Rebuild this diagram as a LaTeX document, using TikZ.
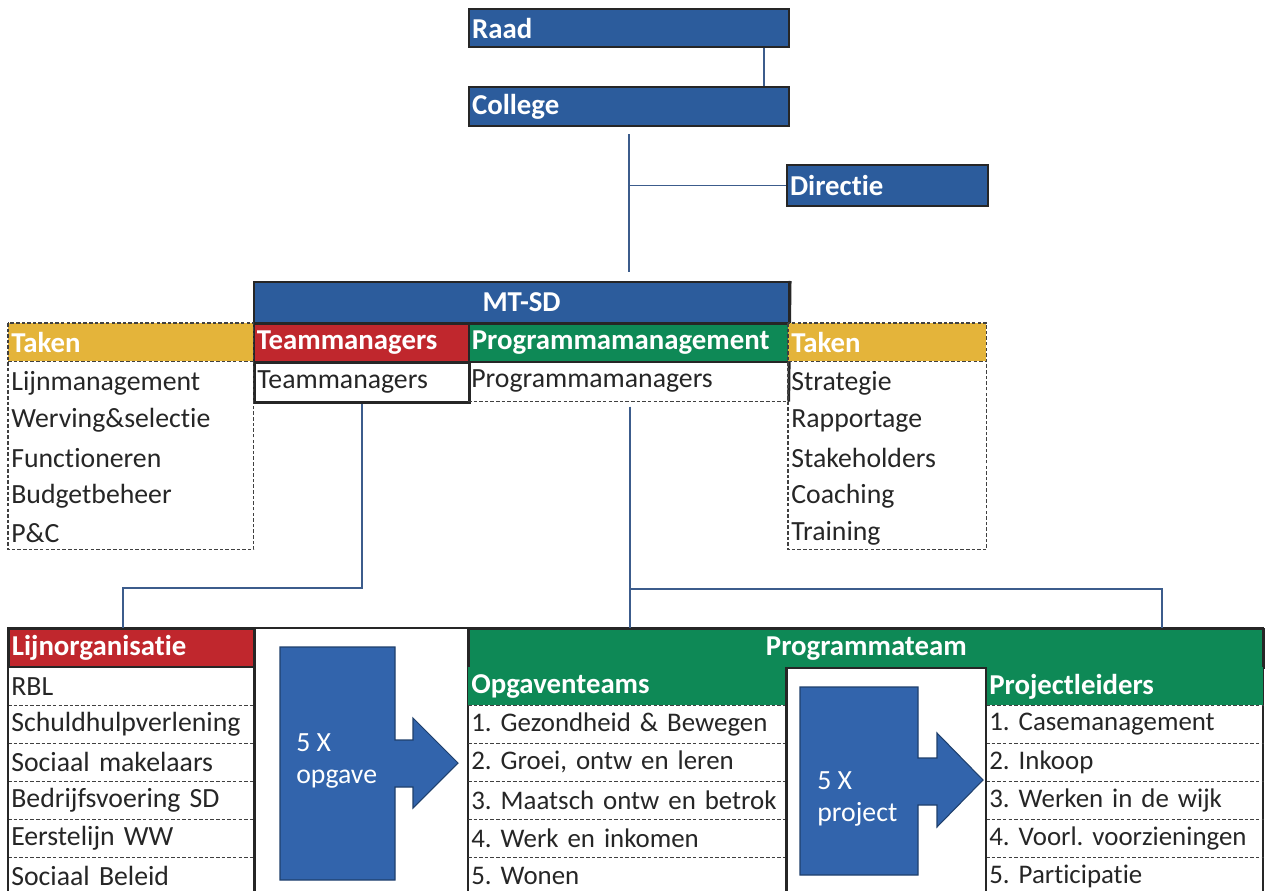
\documentclass[tikz,border=0pt]{standalone}
\usepackage{fontspec}
\setmainfont{Carlito}[Ligatures={NoCommon}]
\usetikzlibrary{calc}

\definecolor{raadblue}{RGB}{44,92,156}
\definecolor{arrowblue}{RGB}{50,100,172}
\definecolor{mtred}{RGB}{192,39,45}
\definecolor{mtgreen}{RGB}{14,137,86}
\definecolor{takengold}{RGB}{228,180,58}
\definecolor{linkblue}{RGB}{60,92,140}
\newcommand\pxu{0.02cm}

\tikzset{
  cell/.style={anchor=north west, inner xsep=3*\pxu, inner ysep=0pt, align=left, text=black!85, font=\fontsize{15.8}{18}\selectfont\frenchspacing, execute at begin node={\hyphenpenalty=10000\relax}},
  narrow/.style={cell, font=\fontsize{15.3}{18}\selectfont\frenchspacing},
  head/.style={cell, text=white, font=\fontsize{16.4}{18}\selectfont\bfseries},
  sz/.style 2 args={text width=#1*\pxu-6*\pxu, minimum height=#2*\pxu},
  bluebar/.style={fill=raadblue, draw=black!85, line width=1.2pt},
  edge/.style={draw=black!85, line width=1.6pt},
  dashline/.style={draw=black!75, line width=0.7pt, dash pattern=on 2pt off 1.2pt},
  conn/.style={draw=linkblue, line width=1pt},
  arrowshape/.style={fill=arrowblue, draw=raadblue!70!black, line width=0.6pt},
  arrowtext/.style={anchor=west, align=left, text=white, inner sep=0pt, font=\fontsize{15.8}{18}\selectfont},
}

\begin{document}
\begin{tikzpicture}[x=0.02cm, y=-0.02cm]
\fill[white] (0,0) rectangle (1270,891);
\useasboundingbox (0,0) rectangle (1270,891);

% bestuur
\node[head, sz={320}{38}, bluebar] (raad) at (468,8) {Raad};
\node[head, sz={320}{39}, bluebar] (college) at (468,86) {College};
\node[head, sz={201}{41}, bluebar] (directie) at (786,164) {Directie};

% MT-SD
\node[head, sz={535}{41}, bluebar, align=center] (mtsd) at (253,281) {MT-SD};
\node[head, sz={215}{38}, fill=mtred, draw=black!85, line width=1pt] (tmhead) at (253,323) {Teammanagers};
\node[cell, sz={215}{40}, draw=black!85, line width=1.6pt] (tmbody) at (253,361) {Teammanagers};
\node[head, sz={320}{38}, fill=mtgreen, draw=black!85, line width=1pt] (pmhead) at (468,323) {Programmamanagement};
\node[cell, sz={320}{40}] (pmbody) at (468,361) {Programmamanagers};
\draw[dashline] (pmbody.south west) -- (pmbody.south east);
\draw[edge] (mtsd.north east) -- (pmbody.south east);

% taken
\node[head, sz={245}{38}, fill=takengold] (takenl) at (8,323) {Taken};
\foreach \t [count=\i] in {Lijnmanagement, Werving\&selectie, Functioneren, Budgetbeheer, P\&C}
  \node[cell, sz={245}{38}] (takenl\i) at (8,{326+\i*37.6}) {\t};
\draw[dashline] (takenl.north west) rectangle ($(takenl5.south east)+(0,-3)$);
\draw[dashline] (takenl.south west) -- (takenl.south east);

\node[head, sz={198}{38}, fill=takengold] (takenr) at (788,323) {Taken};
\foreach \t [count=\i] in {Strategie, Rapportage, Stakeholders, Coaching, Training}
  \node[cell, sz={198}{38}] (takenr\i) at (788,{326+\i*37.6}) {\t};
\draw[dashline] (takenr.north west) rectangle ($(takenr5.south east)+(0,-3)$);
\draw[dashline] (takenr.south west) -- (takenr.south east);

% lijnorganisatie
\node[head, sz={245}{38}, fill=mtred, draw=black!85, line width=1pt] (lijnhead) at (8,628) {Lijnorganisatie};
\foreach \t [count=\i] in {RBL, Schuldhulpverlening, Sociaal makelaars, Bedrijfsvoering SD, Eerstelijn WW, Sociaal Beleid}
  \node[cell, sz={245}{38}] (lijn\i) at (8,{629+\i*38}) {\t};
\foreach \i in {1,...,5}
  \draw[dashline] (lijn\i.south west) -- (lijn\i.south east);
\draw[edge] (lijnhead.north west) rectangle (468,895);
\draw[edge] (lijnhead.north east) -- (lijnhead.north east |- lijn6.south);

\draw[arrowshape] (280,647) -- (395,647) -- (395,740) -- (413,740) -- (413,718) -- (458,763)
  -- (413,808) -- (413,787) -- (395,787) -- (395,880) -- (280,880) -- cycle;
\node[arrowtext] (opgtxt) at (296,761) {5 X\\opgave};

% programmateam
\node[head, sz={795}{39}, fill=mtgreen, draw=black!85, line width=1pt, align=center] (progteam) at (468,628) {Programmateam};
\draw[edge] (progteam.north west) rectangle (1263,895);
\node[head, sz={318}{38}, fill=mtgreen] (opghead) at (468,667) {Opgaventeams};
\foreach \t [count=\i] in {1. Gezondheid \& Bewegen, {2. Groei, ontw en leren}, 3. Maatsch ontw en betrok, 4. Werk en inkomen, 5. Wonen}
  \node[narrow, sz={318}{38}] (opg\i) at (468,{667+\i*38}) {\t};
\node[head, sz={277}{38}, fill=mtgreen] (plhead) at (986,667) {Projectleiders};
\foreach \t [count=\i] in {1. Casemanagement, 2. Inkoop, 3. Werken in de wijk, 4. Voorl. voorzieningen, 5. Participatie}
  \node[narrow, sz={277}{38}] (pl\i) at (986,{667+\i*38}) {\t};
\draw[dashline] (opghead.south west) -- (opghead.south east);
\draw[dashline] (plhead.south west) -- (plhead.south east);
\foreach \i in {1,...,4} {
  \draw[dashline] (opg\i.south west) -- (opg\i.south east);
  \draw[dashline] (pl\i.south west) -- (pl\i.south east);
}
\draw[edge] (opghead.north east) -- (opghead.north east |- opg5.south);
\draw[edge] (plhead.north west) -- (plhead.north west |- pl5.south);

\draw[arrowshape] (800,687) -- (918,687) -- (918,758) -- (937,758) -- (937,733) -- (983,780)
  -- (937,827) -- (937,805) -- (918,805) -- (918,875) -- (800,875) -- cycle;
\node[arrowtext] (prjtxt) at (817,799) {5 X\\project};

% lijnen
\draw[conn] ([xshift=-26*\pxu]raad.south east) -- ([xshift=-26*\pxu]college.north east);
\draw[conn] ($(college.south)+(0,7)$) -- ($(college.south |- mtsd.north)+(0,-9)$);
\draw[conn] (college.south |- directie.west) -- (directie.west);
\coordinate (lknee) at (123,588);
\draw[conn] (tmbody.south) |- (lknee) -- (lknee |- lijnhead.north);
\coordinate (rknee) at (1162,589);
\draw[conn] ($(pmbody.south)+(2,5)$) -- ($(pmbody.south |- progteam.north)+(2,0)$);
\draw[conn] ($(pmbody.south |- rknee)+(2,0)$) -- (rknee) -- (rknee |- progteam.north);
\end{tikzpicture}
\end{document}
